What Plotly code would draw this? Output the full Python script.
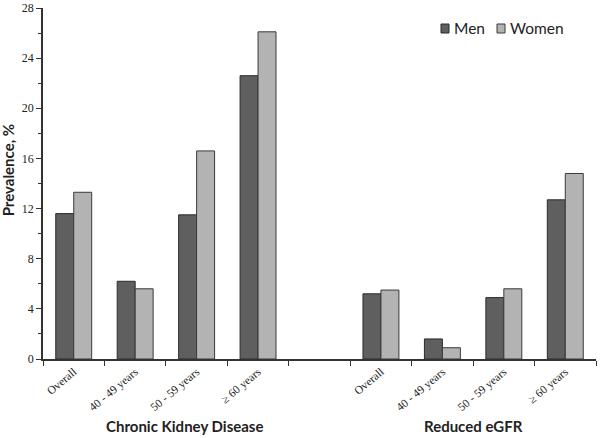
import plotly.graph_objects as go

age_labels = ["Overall", "40 - 49 years", "50 - 59 years", "\u2265 60 years"]
group_names = ["Chronic Kidney Disease", "Reduced eGFR"]
series_names = ["Men", "Women"]
ckd_men = [11.6, 6.2, 11.5, 22.6]
ckd_women = [13.3, 5.6, 16.6, 26.1]
egfr_men = [5.2, 1.6, 4.9, 12.7]
egfr_women = [5.5, 0.9, 5.6, 14.8]
y_ticks = [0, 4, 8, 12, 16, 20, 24, 28]

n = len(age_labels)
pos_ckd = list(range(n))
pos_egfr = [n + 1 + i for i in range(n)]
positions = pos_ckd + pos_egfr
men = ckd_men + egfr_men
women = ckd_women + egfr_women

serif = "Liberation Serif, Times New Roman, serif"
sans = "Lato, Open Sans, sans-serif"
fills = ["#5f5f5f", "#b3b3b3"]
edges = ["#2b2b2b", "#3a3a3a"]

fig = go.Figure()
for name, vals, fc, ec in zip(series_names, [men, women], fills, edges):
    fig.add_trace(go.Bar(x=positions, y=vals, name=name, showlegend=False,
                         marker=dict(color=fc, line=dict(color=ec, width=1))))

total = 2 * n + 1
boundaries = [i - 0.5 for i in range(total + 1)]

fig.update_layout(
    width=600, height=438,
    margin=dict(l=43, r=4, t=8, b=79, autoexpand=False),
    paper_bgcolor="white", plot_bgcolor="white",
    barmode="group", bargap=0.415, bargroupgap=0,
    showlegend=False,
    xaxis=dict(range=[-0.5, total - 0.5], tickmode="array", tickvals=positions,
               ticktext=age_labels + age_labels, tickangle=-40, ticks="",
               tickfont=dict(family=serif, size=11.5, color="#222"), automargin=False,
               showline=True, linecolor="#333", linewidth=1.5, showgrid=False, zeroline=False,
               minor=dict(tickmode="array", tickvals=boundaries, ticks="outside",
                          ticklen=5, tickcolor="#333", tickwidth=1, showgrid=False)),
    yaxis=dict(range=[0, 28], tickmode="array", tickvals=y_ticks, ticks="outside",
               ticklen=5, tickcolor="#333", tickwidth=1, automargin=False,
               tickfont=dict(family=serif, size=12, color="#222"),
               showline=True, linecolor="#333", linewidth=1.5, showgrid=False, zeroline=False,
               minor=dict(dtick=2, ticks="outside", ticklen=3, tickcolor="#333", showgrid=False)),
)

# legend (manual, compact like the reference)
leg_x = [441, 497]
for name, fc, ec, lx in zip(series_names, fills, edges, leg_x):
    fig.add_shape(type="rect", xref="paper", yref="paper",
                  x0=(lx - 43) / 553, x1=(lx + 8 - 43) / 553,
                  y0=(359 - 33) / 351, y1=(359 - 24) / 351,
                  fillcolor=fc, line=dict(color=ec, width=1))
    fig.add_annotation(text=name, xref="paper", yref="paper",
                       x=(lx + 11 - 43) / 553, y=(359 - 28.5) / 351,
                       xanchor="left", yanchor="middle", showarrow=False,
                       font=dict(family=sans, size=15.5, color="#222"))

fig.add_annotation(text="<b>Prevalence, %</b>", xref="paper", yref="paper",
                   x=-0.063, y=0.538, textangle=-90, showarrow=False,
                   font=dict(family=sans, size=15, color="#222"), xanchor="center", yanchor="middle")

centers = [sum(pos_ckd) / n + 0.3, sum(pos_egfr) / n]
for name, c in zip(group_names, centers):
    fig.add_annotation(text="<b>" + name + "</b>", xref="x", yref="paper",
                       x=c, y=-0.19, showarrow=False, yanchor="middle",
                       font=dict(family=sans, size=15, color="#222"))

fig.write_html("out.html", config={"displayModeBar": False},
               post_script="document.body.style.margin='0';document.body.style.overflow='hidden';")
